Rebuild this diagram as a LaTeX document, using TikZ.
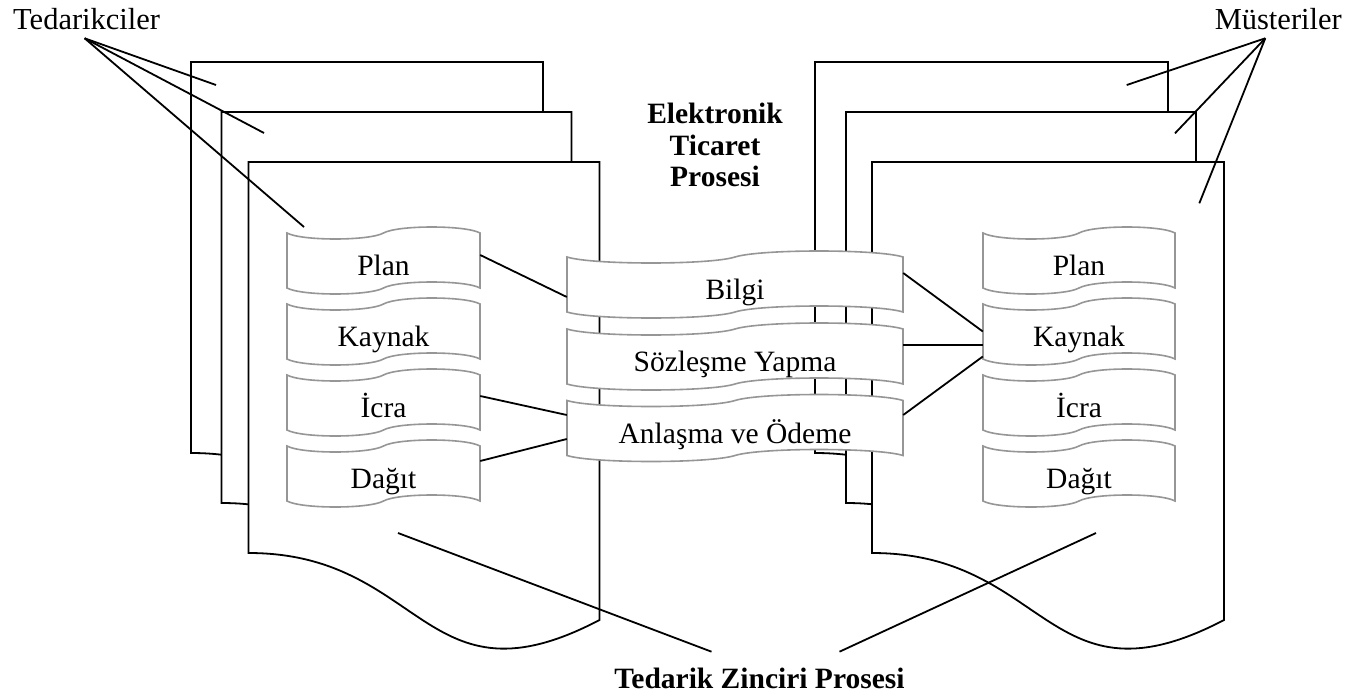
\documentclass[tikz,border=0pt]{standalone}
\usepackage{fontspec}
\setmainfont{Liberation Serif}
\usetikzlibrary{calc}
\definecolor{tapegray}{RGB}{150,150,150}

% one page of a document stack: left, top, right (wavy bottom edge)
\newcommand\docpage[3]{%
  \pgfmathsetmacro\dpM{(#1+#3)/2}%
  \draw[docline] (#1,#2) -- (#3,#2) -- (#3,{#2+458})
    .. controls (\dpM,{#2+550}) and (\dpM,{#2+391}) .. (#1,{#2+391}) -- cycle;
}

% punched-tape outline plus its named text node: name, centre x, centre y, width, text
\newcommand\tapenode[5]{%
  \pgfmathsetmacro\tpL{#2-#4/2}\pgfmathsetmacro\tpR{#2+#4/2}%
  \pgfmathsetmacro\tpT{#3-27.5}\pgfmathsetmacro\tpB{#3+27.5}%
  \pgfmathsetmacro\tpC{0.075*#4}%
  \draw[tapeline] (\tpL,\tpT)
      .. controls ({\tpL+\tpC},{\tpT+8}) and ({#2-\tpC},{\tpT+8}) .. (#2,\tpT)
      .. controls ({#2+\tpC},{\tpT-8}) and ({\tpR-\tpC},{\tpT-8}) .. (\tpR,\tpT)
      -- (\tpR,\tpB)
      .. controls ({\tpR-\tpC},{\tpB-8}) and ({#2+\tpC},{\tpB-8}) .. (#2,\tpB)
      .. controls ({#2-\tpC},{\tpB+8}) and ({\tpL+\tpC},{\tpB+8}) .. (\tpL,\tpB) -- cycle;
  \node[tapebox,minimum width=#4pt] (#1) at (#2,#3) {#5};
}

\begin{document}
\begin{tikzpicture}[x=1pt,y=-1pt,
  docline/.style={draw=black,line width=1.8pt,fill=white},
  tapeline/.style={draw=tapegray,line width=1.6pt,fill=white},
  link/.style={draw=black,line width=1.8pt},
  tapebox/.style={inner sep=0pt,minimum height=55pt,text height=30pt,text depth=0pt,
    font=\fontsize{29.5}{34}\selectfont},
  lbl/.style={inner sep=0pt,font=\fontsize{30.5}{36}\selectfont},
  boldlbl/.style={inner sep=0pt,font=\bfseries\fontsize{29.5}{31.7}\selectfont,align=center}]

\useasboundingbox (0,0) rectangle (1362,698);
\clip (0,0) rectangle (1362,698);

% supplier stack
\docpage{191}{62}{543}
\docpage{221.5}{112}{571.5}
\docpage{248.5}{162}{599.5}
% customer stack
\docpage{815}{62}{1168}
\docpage{846}{112}{1196}
\docpage{872}{162}{1224}

% supply chain steps, supplier side
\tapenode{lplan}{383.5}{260.5}{193}{Plan}
\tapenode{lkaynak}{383.5}{331.5}{193}{Kaynak}
\tapenode{licra}{383.5}{402.5}{193}{İcra}
\tapenode{ldagit}{383.5}{473.5}{193}{Dağıt}

% supply chain steps, customer side
\tapenode{rplan}{1079}{260.5}{192}{Plan}
\tapenode{rkaynak}{1079}{331.5}{192}{Kaynak}
\tapenode{ricra}{1079}{402.5}{192}{İcra}
\tapenode{rdagit}{1079}{473.5}{192}{Dağıt}

% e-commerce steps in the middle
\tapenode{bilgi}{735}{284.5}{336}{Bilgi}
\tapenode{sozlesme}{735}{356.5}{336}{Sözleşme Yapma}
\tapenode{anlasma}{735}{428}{336}{Anlaşma ve Ödeme}

% labels
\node[lbl,anchor=base west] (ted) at (13,29.3) {Tedarikciler};
\node[lbl,anchor=base east] (mus) at (1342,29.3) {Müsteriler};
\node[boldlbl] (etp) at (715,145) {Elektronik\\Ticaret\\Prosesi};
\node[inner sep=0pt,font=\bfseries\fontsize{29.5}{34}\selectfont,anchor=base] (tzp) at (759.5,688) {Tedarik Zinciri Prosesi};

% free ends of the label pointers
\coordinate (ted1) at (216,85);
\coordinate (ted2) at (264,133);
\coordinate (ted3) at (304,227);
\coordinate (mus1) at (1126.7,85);
\coordinate (mus2) at (1175,133.3);
\coordinate (mus3) at (1199.3,203.3);
\coordinate (tzl) at (398,533);
\coordinate (tzr) at (1096,533);

% label pointers
\foreach \e in {ted1,ted2,ted3} \draw[link] ([shift={(-2,9)}]ted.base) -- (\e);
\foreach \e in {mus1,mus2,mus3} \draw[link] ([shift={(-13,9)}]mus.base) -- (\e);
\draw[link] (tzl) -- ([shift={(-48,-36.3)}]tzp.base);
\draw[link] (tzr) -- ([shift={(80,-36.3)}]tzp.base);

% links between the processes
\draw[link] ([yshift=5.5pt]lplan.east) -- ([yshift=-12.5pt]bilgi.west);
\draw[link] ([yshift=6.5pt]licra.east) -- ([yshift=13pt]anlasma.west);
\draw[link] ([yshift=12.5pt]ldagit.east) -- ([yshift=-11pt]anlasma.west);
\draw[link] ([yshift=11.5pt]bilgi.east) -- (rkaynak.west);
\draw[link] ([yshift=11.5pt]sozlesme.east) -- ([yshift=-13.5pt]rkaynak.west);
\draw[link] ([yshift=13pt]anlasma.east) -- ([yshift=-25pt]rkaynak.west);
\end{tikzpicture}
\end{document}
